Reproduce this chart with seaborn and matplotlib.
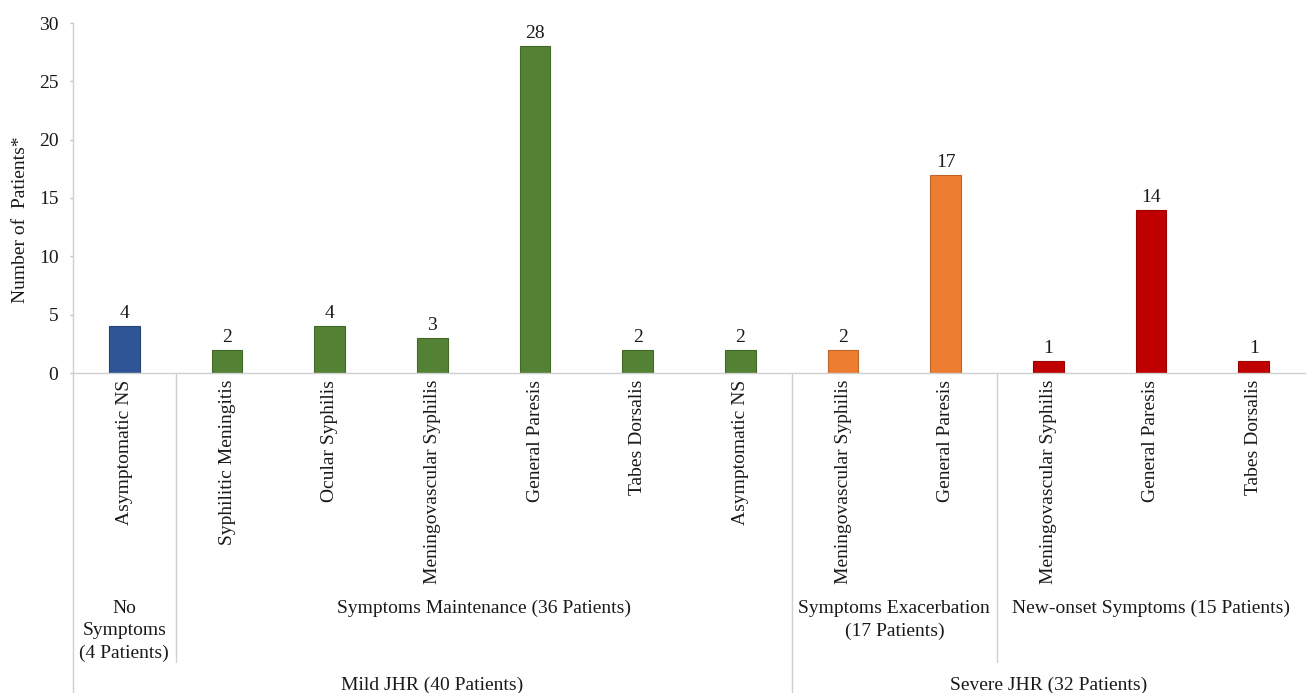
import matplotlib
matplotlib.use("Agg")
import matplotlib.pyplot as plt
import matplotlib.transforms as mtransforms
import seaborn as sns
import pandas as pd

# ---- data ----
categories = ["Asymptomatic NS", "Syphilitic Meningitis", "Ocular Syphilis",
              "Meningovascular Syphilis", "General Paresis", "Tabes Dorsalis",
              "Asymptomatic NS", "Meningovascular Syphilis", "General Paresis",
              "Meningovascular Syphilis", "General Paresis", "Tabes Dorsalis"]
values = [4, 2, 4, 3, 28, 2, 2, 2, 17, 1, 14, 1]
groups = ["No Symptoms", "Maintenance", "Maintenance", "Maintenance", "Maintenance",
          "Maintenance", "Maintenance", "Exacerbation", "Exacerbation",
          "New-onset", "New-onset", "New-onset"]
level2_labels = ["No\nSymptoms\n(4 Patients)", "Symptoms Maintenance (36 Patients)",
                 "Symptoms Exacerbation\n(17 Patients)", "New-onset Symptoms (15 Patients)"]
level2_spans = [(0, 1), (1, 7), (7, 9), (9, 12)]
level3_labels = ["Mild JHR (40 Patients)", "Severe JHR (32 Patients)"]
level3_spans = [(0, 7), (7, 12)]
group_colors = {"No Symptoms": "#2F5597", "Maintenance": "#548235",
                "Exacerbation": "#ED7D31", "New-onset": "#C00000"}

sns.set_style("white")
plt.rcParams["font.family"] = ["Liberation Serif", "DejaVu Serif"]
FS = 14
TC = "#1a1a1a"

df = pd.DataFrame({"pos": [str(i) for i in range(len(values))],
                   "value": values, "group": groups})

fig = plt.figure(figsize=(13.07, 6.93), dpi=100)
ax = fig.add_axes([73 / 1307, (693 - 373) / 693, (1305 - 73) / 1307, 350 / 693])

sns.barplot(data=df, x="pos", y="value", hue="group", palette=group_colors,
            order=df["pos"].tolist(), dodge=False, width=0.3, legend=False,
            saturation=1, linewidth=0, ax=ax)

for cont in ax.containers:
    for p in cont.patches:
        if p.get_height() and p.get_height() > 0:
            c = p.get_facecolor()
            p.set_edgecolor([max(0, x * 0.8) for x in c[:3]])
            p.set_linewidth(0.8)
    ax.bar_label(cont, labels=[f"{int(v)}" if v == v and v > 0 else "" for v in cont.datavalues],
                 padding=3, fontsize=FS, color=TC)

ax.set_ylim(0, 30)
ax.set_xlim(-0.5, len(values) - 0.5)
ax.set_yticks(range(0, 31, 5))
ax.set_xticks(range(len(values)))
ax.set_xticklabels(categories, rotation=90, va="top", ha="center")
ax.tick_params(axis="x", length=0, pad=5, labelsize=FS, labelcolor=TC)
ax.tick_params(axis="y", length=2.5, color="#BFBFBF", width=1, pad=8,
               labelsize=FS, labelcolor=TC, left=True)
ax.set_xlabel("")
ax.set_ylabel("Number of  Patients*", fontsize=FS, color=TC)
ax.yaxis.set_label_coords((29 - 73) / 1232, (373 - 220) / 350)

for s in ["top", "right"]:
    ax.spines[s].set_visible(False)
for s in ["left", "bottom"]:
    ax.spines[s].set_color("#D0D0D0")
    ax.spines[s].set_linewidth(1)

trans = mtransforms.blended_transform_factory(ax.transData, ax.transAxes)
lc = "#D0D0D0"
y_full = -320 / 350
y_mid = -289 / 350
ax.plot([-0.5, -0.5], [0, y_full], transform=trans, color=lc, lw=1, clip_on=False)
ax.plot([0.5, 0.5], [0, y_mid], transform=trans, color=lc, lw=1, clip_on=False)
ax.plot([6.5, 6.5], [0, y_full], transform=trans, color=lc, lw=1, clip_on=False)
ax.plot([8.5, 8.5], [0, y_mid], transform=trans, color=lc, lw=1, clip_on=False)

for lab, (s, e) in zip(level2_labels, level2_spans):
    ax.text((s + e - 1) / 2, -(600 - 373) / 350, lab, transform=trans,
            ha="center", va="top", fontsize=FS, color=TC, linespacing=1.4)
for lab, (s, e) in zip(level3_labels, level3_spans):
    ax.text((s + e - 1) / 2, -(685 - 373) / 350, lab, transform=trans,
            ha="center", va="center", fontsize=FS, color=TC)

fig.savefig("out.png", dpi=100)
